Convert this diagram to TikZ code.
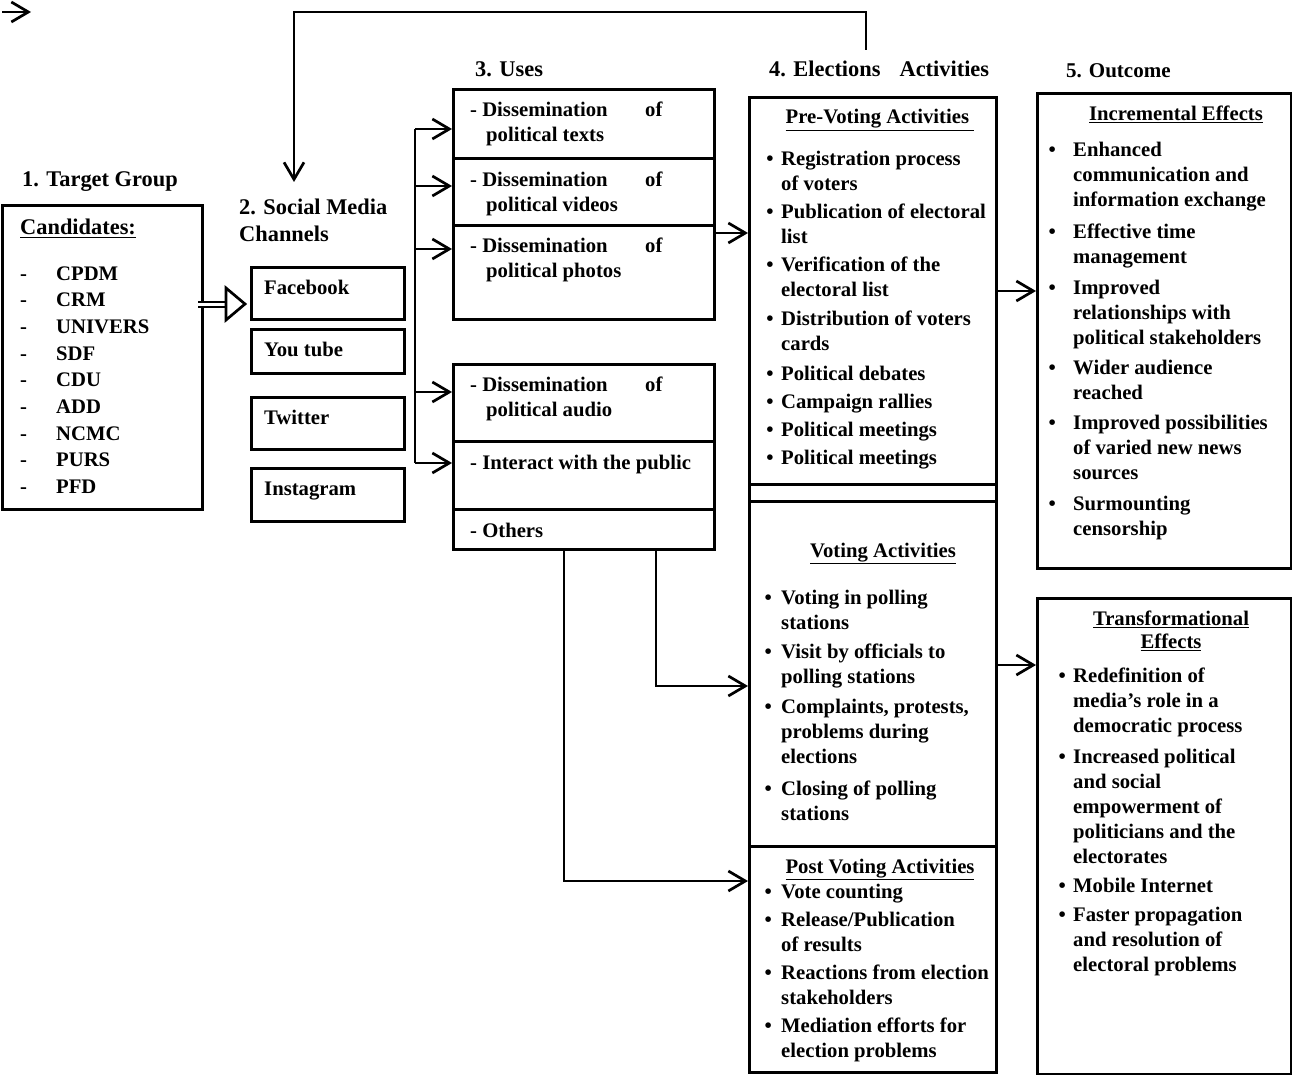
\documentclass[tikz,border=0pt]{standalone}
\usepackage{fontspec}
\setmainfont{Liberation Serif}
\usetikzlibrary{arrows.meta,calc}
\newcommand\bl[1]{\llap{•\hspace{#1}}}
\newcommand\st{\rule{0pt}{18pt}}
\begin{document}
\begin{tikzpicture}[x=1pt,y=-1pt,
  bx/.style={draw, line width=2.8pt, inner sep=0pt, anchor=north west},
  tx/.style={inner sep=0pt, font=\fontsize{20.7}{25}\selectfont\bfseries, align=left, anchor=north west},
  bt/.style={inner sep=0pt, font=\fontsize{20.7}{25}\selectfont\bfseries, anchor=base west},
  hd/.style={inner sep=0pt, font=\fontsize{20.7}{25}\selectfont\bfseries, anchor=base},
  ttl/.style={inner sep=0pt, font=\fontsize{22.4}{27}\selectfont\bfseries, anchor=base west},
  ln/.style={line width=2.7pt},
  arr/.style={line width=2.7pt, -{Straight Barb[length=17pt,width=20pt]}}]
\useasboundingbox (0,0) rectangle (1292,1075);

% ---------- boxes ----------
\node[bx, minimum width=200pt, minimum height=304pt] (tg) at (1,204) {};
\node[bx, minimum width=153pt, minimum height=52pt] (fbk) at (250,266) {};
\node[bx, minimum width=153pt, minimum height=44pt] (ytb) at (250,328) {};
\node[bx, minimum width=153pt, minimum height=52pt] (twt) at (250,396) {};
\node[bx, minimum width=153pt, minimum height=53pt] (igm) at (250,467) {};

\node[bx, minimum width=261pt, minimum height=69pt] (u1) at (452,88) {};
\node[bx, minimum width=261pt, minimum height=67pt] (u2) at (452,157) {};
\node[bx, minimum width=261pt, minimum height=94pt] (u3) at (452,224) {};
\node[bx, minimum width=261pt, minimum height=77pt] (u4) at (452,363) {};
\node[bx, minimum width=261pt, minimum height=68pt] (u5) at (452,440) {};
\node[bx, minimum width=261pt, minimum height=40pt] (u6) at (452,508) {};

\node[bx, minimum width=247pt, minimum height=387pt] (pre) at (748,96) {};
\node[bx, minimum width=247pt, minimum height=17pt] (strip) at (748,483) {};
\node[bx, minimum width=247pt, minimum height=345pt] (vot) at (748,500) {};
\node[bx, minimum width=247pt, minimum height=226pt] (post) at (748,845) {};

\node[bx, minimum width=254pt, minimum height=475pt] (inc) at (1036,92) {};
\node[bx, minimum width=254pt, minimum height=476pt] (trf) at (1036,597) {};

% ---------- titles ----------
\node[ttl] (t1) at (22,187) {1. Target Group};
\node[tx, font=\fontsize{22.4}{27}\selectfont\bfseries] (t2) at (239,196) {\st 2. Social Media\\Channels};
\node[ttl] (t3) at (475,77) {3. Uses};
\node[ttl] (t4) at (769,77) {4. Elections\hspace{19pt}Activities};
\node[ttl, font=\fontsize{21}{25}\selectfont\bfseries] (t5) at (1066,78) {5. Outcome};

% ---------- target group ----------
\node[ttl] (cand) at (20,235) {\underline{Candidates:}};
\node[tx, font=\fontsize{20.7}{26.67}\selectfont\bfseries] (clist) at (20,262)
 {\st\makebox[36pt][l]{-}CPDM\\\makebox[36pt][l]{-}CRM\\\makebox[36pt][l]{-}UNIVERS\\\makebox[36pt][l]{-}SDF\\\makebox[36pt][l]{-}CDU\\\makebox[36pt][l]{-}ADD\\\makebox[36pt][l]{-}NCMC\\\makebox[36pt][l]{-}PURS\\\makebox[36pt][l]{-}PFD};

% ---------- social media ----------
\node[bt] (fbt) at (264,294) {Facebook};
\node[bt] (ytt) at (264,356) {You tube};
\node[bt] (twtt) at (264,424) {Twitter};
\node[bt] (igt) at (264,495) {Instagram};

% ---------- uses ----------
\node[tx] (u1t) at (470,98) {\st\makebox[175pt][l]{- Dissemination}of\\\hspace*{16pt}political texts};
\node[tx] (u2t) at (470,168) {\st\makebox[175pt][l]{- Dissemination}of\\\hspace*{16pt}political videos};
\node[tx] (u3t) at (470,234) {\st\makebox[175pt][l]{- Dissemination}of\\\hspace*{16pt}political photos};
\node[tx] (u4t) at (470,373) {\st\makebox[175pt][l]{- Dissemination}of\\\hspace*{16pt}political audio};
\node[bt] (u5t) at (470,469) {- Interact with the public};
\node[bt] (u6t) at (470,537) {- Others};

% ---------- election activities ----------
\node[hd] (preh) at (880,124) {\underline{Pre-Voting Activities\ }};
\node[tx] (prel) at (781,147) {\st\bl{7.5pt}Registration process\\of voters\\[3pt]\bl{7.5pt}Publication of electoral\\list\\[3pt]\bl{7.5pt}Verification of the\\electoral list\\[4pt]\bl{7.5pt}Distribution of voters\\cards\\[5pt]\bl{7.5pt}Political debates\\[3pt]\bl{7.5pt}Campaign rallies\\[3pt]\bl{7.5pt}Political meetings\\[3pt]\bl{7.5pt}Political meetings};

\node[hd] (voth) at (883,557) {\underline{Voting Activities}};
\node[tx] (votl) at (781,586) {\st\bl{9.4pt}Voting in polling\\stations\\[4pt]\bl{9.4pt}Visit by officials to\\polling stations\\[5pt]\bl{9.4pt}Complaints, protests,\\problems during\\elections\\[7pt]\bl{9.4pt}Closing of polling\\stations};

\node[hd] (posth) at (880,873) {\underline{Post Voting Activities}};
\node[tx] (postl) at (781,880) {\st\bl{9.4pt}Vote counting\\[3pt]\bl{9.4pt}Release/Publication\\of results\\[3pt]\bl{9.4pt}Reactions from election\\stakeholders\\[3pt]\bl{9.4pt}Mediation efforts for\\election problems};

% ---------- outcome ----------
\node[hd] (inch) at (1176,121) {\underline{Incremental Effects}};
\node[tx] (incl) at (1073,138) {\st\bl{17.4pt}Enhanced\\communication and\\information exchange\\[7pt]\bl{17.4pt}Effective time\\management\\[6pt]\bl{17.4pt}Improved\\relationships with\\political stakeholders\\[5pt]\bl{17.4pt}Wider audience\\reached\\[5pt]\bl{17.4pt}Improved possibilities\\of varied new news\\sources\\[6pt]\bl{17.4pt}Surmounting\\censorship};

\node[tx, align=center, anchor=north, font=\fontsize{20.7}{23}\selectfont\bfseries] (trfh) at (1171,607) {\st\underline{Transformational}\\\underline{Effects}};
\node[tx] (trfl) at (1073,664) {\st\bl{7.4pt}Redefinition of\\media’s role in a\\democratic process\\[6pt]\bl{7.4pt}Increased political\\and social\\empowerment of\\politicians and the\\electorates\\[4pt]\bl{7.4pt}Mobile Internet\\[4pt]\bl{7.4pt}Faster propagation\\and resolution of\\electoral problems};

% ---------- connectors ----------
\coordinate (s0) at (2,12);
\coordinate (s1) at (31,12);
\draw[arr] (s0) -- (s1);

\coordinate (f0) at (866,50);
\coordinate (f1) at (294,12);
\coordinate (f2) at (294,182);
\draw[arr] (f0) |- (f1) -- (f2);

\coordinate (da0) at (198,304);
\coordinate (da1) at (226,304);
\coordinate (da2) at (245,304);
\draw[double, double distance=3pt, line width=2pt] (da0) -- (da1);
\draw[line width=2.7pt, line join=miter] ($(da1)+(0,-16)$) -- (da2) -- ($(da1)+(0,16)$) -- cycle;

\coordinate (a1) at (415,129);
\coordinate (a2) at (415,186);
\coordinate (a3) at (415,249);
\coordinate (a4) at (415,392);
\coordinate (a5) at (415,463);
\draw[ln] (a1) -- (a5);
\draw[arr] (a1) -- (a1 -| u1.west);
\draw[arr] (a2) -- (a2 -| u2.west);
\draw[arr] (a3) -- (a3 -| u3.west);
\draw[arr] (a4) -- (a4 -| u4.west);
\draw[arr] (a5) -- (a5 -| u5.west);

\coordinate (b1) at (730,233);
\draw[arr] (b1 -| u3.east) -- (b1 -| pre.west);

\coordinate (c1) at (1015,291);
\coordinate (c2) at (1015,665);
\draw[arr] (c1 -| pre.east) -- (c1 -| inc.west);
\draw[arr] (c2 -| vot.east) -- (c2 -| trf.west);

\coordinate (d1) at (656,686);
\coordinate (d2) at (564,881);
\draw[arr] (d1 |- u6.south) |- (d1 -| vot.west);
\draw[arr] (d2 |- u6.south) |- (d2 -| post.west);
\end{tikzpicture}
\end{document}
